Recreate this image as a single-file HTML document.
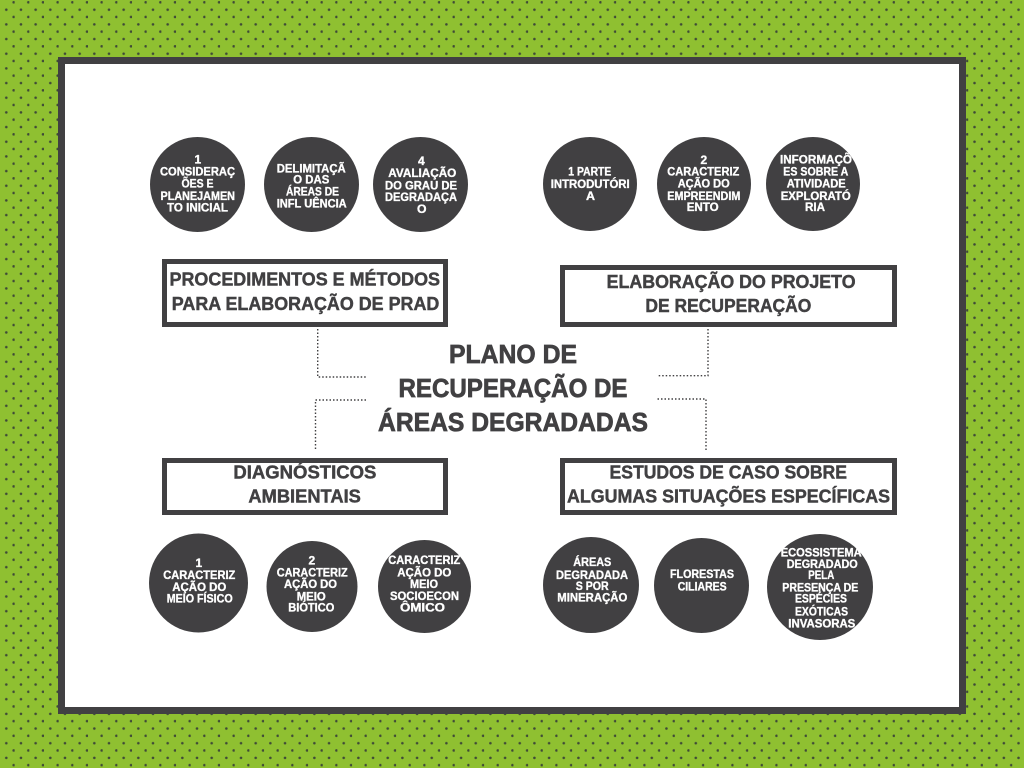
<!DOCTYPE html>
<html lang="pt">
<head>
<meta charset="utf-8">
<title>Plano de Recuperação de Áreas Degradadas</title>
<style>
html,body{margin:0;padding:0;width:1024px;height:768px;overflow:hidden;background:#8fc031}
svg{display:block}
text{font-family:"Liberation Sans",sans-serif;font-weight:700}
.c text{fill:#fff;stroke:#fff;stroke-width:.35;font-size:12px;text-anchor:start}
.b text{fill:#414042;stroke:#414042;stroke-width:.45;font-size:18.5px}
.t text{fill:#414042;stroke:#414042;stroke-width:.7;font-size:25.5px}
.d{fill:none;stroke:#414042;stroke-width:1.4;stroke-dasharray:1.5 2}
</style>
</head>
<body>
<svg width="1024" height="768" viewBox="0 0 1024 768" xmlns="http://www.w3.org/2000/svg">
<defs>
<pattern id="p" x="0" y="0" width="14.67" height="14.67" patternUnits="userSpaceOnUse">
<circle cx="13.7" cy="2.3" r="1.3" fill="#3f4a38"/>
<circle cx="6.3" cy="9.7" r="1.3" fill="#3f4a38"/>
</pattern>
</defs>
<rect width="1024" height="768" fill="#8fc031"/>
<rect width="1024" height="768" fill="url(#p)"/>
<rect x="61.5" y="60.5" width="901" height="650" fill="#fff" stroke="#414042" stroke-width="7"/>

<g fill="#414042">
<circle cx="197.5" cy="184.5" r="47.5"/><circle cx="311.5" cy="184.5" r="47.5"/><circle cx="420.5" cy="184.5" r="47.5"/>
<circle cx="590" cy="184" r="47"/><circle cx="704" cy="184" r="47"/><circle cx="813" cy="184" r="47"/>
<circle cx="198.5" cy="583" r="49.5"/><circle cx="312" cy="586.5" r="45.5"/><circle cx="424.5" cy="586.5" r="46.5"/>
<circle cx="591" cy="585" r="48"/><circle cx="701.5" cy="585.5" r="47.5"/><circle cx="820" cy="587" r="53"/>
</g>

<g fill="#fff" stroke="#414042" stroke-width="5">
<rect x="164.5" y="261.5" width="281" height="63"/>
<rect x="562.5" y="267.5" width="332" height="57"/>
<rect x="164.5" y="460.5" width="281" height="52"/>
<rect x="562.5" y="460.5" width="332" height="52"/>
</g>

<path class="d" d="M317.7 329V377H366"/>
<path class="d" d="M708 329V375.7H657.5"/>
<path class="d" d="M366 400H315.5V449"/>
<path class="d" d="M657.5 399H706V451"/>

<g class="t">
<text x="449" y="363" textLength="128" lengthAdjust="spacingAndGlyphs">PLANO DE</text>
<text x="398.5" y="397" textLength="229" lengthAdjust="spacingAndGlyphs">RECUPERAÇÃO DE</text>
<text x="378" y="431" textLength="270" lengthAdjust="spacingAndGlyphs">ÁREAS DEGRADADAS</text>
</g>

<g class="b">
<text x="169.5" y="285.7" textLength="270.5" lengthAdjust="spacingAndGlyphs">PROCEDIMENTOS E MÉTODOS</text>
<text x="171.8" y="310" textLength="267.5" lengthAdjust="spacingAndGlyphs">PARA ELABORAÇÃO DE PRAD</text>
<text x="606.6" y="288" textLength="249" lengthAdjust="spacingAndGlyphs">ELABORAÇÃO DO PROJETO</text>
<text x="645.4" y="312" textLength="166" lengthAdjust="spacingAndGlyphs">DE RECUPERAÇÃO</text>
<text x="233.4" y="478.7" textLength="143" lengthAdjust="spacingAndGlyphs">DIAGNÓSTICOS</text>
<text x="248.4" y="502.7" textLength="112.5" lengthAdjust="spacingAndGlyphs">AMBIENTAIS</text>
<text x="609.5" y="478.7" textLength="237.5" lengthAdjust="spacingAndGlyphs">ESTUDOS DE CASO SOBRE</text>
<text x="567" y="502.7" textLength="323" lengthAdjust="spacingAndGlyphs">ALGUMAS SITUAÇÕES ESPECÍFICAS</text>
</g>

<g class="c">
<text x="194.5" y="163.3">1</text>
<text x="160" y="175.7" textLength="75" lengthAdjust="spacingAndGlyphs">CONSIDERAÇ</text>
<text x="181.5" y="187.7" textLength="32" lengthAdjust="spacingAndGlyphs">ÕES E</text>
<text x="160.5" y="200" textLength="74.5" lengthAdjust="spacingAndGlyphs">PLANEJAMEN</text>
<text x="167" y="211.7" textLength="61" lengthAdjust="spacingAndGlyphs">TO INICIAL</text>

<text x="276.7" y="172.5" textLength="69" lengthAdjust="spacingAndGlyphs">DELIMITAÇÃ</text>
<text x="293.3" y="183.5" textLength="36" lengthAdjust="spacingAndGlyphs">O DAS</text>
<text x="286" y="195.7" textLength="53" lengthAdjust="spacingAndGlyphs">ÁREAS DE</text>
<text x="276.7" y="207.7" textLength="70" lengthAdjust="spacingAndGlyphs">INFL UÊNCIA</text>

<text x="418" y="165">4</text>
<text x="388.3" y="177" textLength="68" lengthAdjust="spacingAndGlyphs">AVALIAÇÃO</text>
<text x="385" y="189.3" textLength="72" lengthAdjust="spacingAndGlyphs">DO GRAU DE</text>
<text x="385" y="201" textLength="72" lengthAdjust="spacingAndGlyphs">DEGRADAÇA</text>
<text x="417" y="213" textLength="9.5" lengthAdjust="spacingAndGlyphs">O</text>

<text x="568.3" y="175.7" textLength="43" lengthAdjust="spacingAndGlyphs">1 PARTE</text>
<text x="550.7" y="188" textLength="79" lengthAdjust="spacingAndGlyphs">INTRODUTÓRI</text>
<text x="586" y="200" textLength="9" lengthAdjust="spacingAndGlyphs">A</text>

<text x="700.5" y="164">2</text>
<text x="667.3" y="175.7" textLength="72" lengthAdjust="spacingAndGlyphs">CARACTERIZ</text>
<text x="677.7" y="187.7" textLength="52" lengthAdjust="spacingAndGlyphs">AÇÃO DO</text>
<text x="667.3" y="200" textLength="73" lengthAdjust="spacingAndGlyphs">EMPREENDIM</text>
<text x="686.7" y="211" textLength="32" lengthAdjust="spacingAndGlyphs">ENTO</text>

<text x="780" y="163.3" textLength="72" lengthAdjust="spacingAndGlyphs">INFORMAÇÕ</text>
<text x="783.3" y="175.7" textLength="65" lengthAdjust="spacingAndGlyphs">ES SOBRE A</text>
<text x="786.7" y="187.7" textLength="59" lengthAdjust="spacingAndGlyphs">ATIVIDADE</text>
<text x="780.7" y="200" textLength="70" lengthAdjust="spacingAndGlyphs">EXPLORATÓ</text>
<text x="805" y="211" textLength="20" lengthAdjust="spacingAndGlyphs">RIA</text>

<text x="195.5" y="567">1</text>
<text x="163.3" y="579" textLength="72" lengthAdjust="spacingAndGlyphs">CARACTERIZ</text>
<text x="172.3" y="591" textLength="54" lengthAdjust="spacingAndGlyphs">AÇÃO DO</text>
<text x="166.7" y="602.5" textLength="66" lengthAdjust="spacingAndGlyphs">MEIO FÍSICO</text>

<text x="308.5" y="564.5">2</text>
<text x="276.7" y="576.7" textLength="71" lengthAdjust="spacingAndGlyphs">CARACTERIZ</text>
<text x="284" y="588" textLength="53" lengthAdjust="spacingAndGlyphs">AÇÃO DO</text>
<text x="296.7" y="600.7" textLength="29" lengthAdjust="spacingAndGlyphs">MEIO</text>
<text x="288.3" y="611.7" textLength="46" lengthAdjust="spacingAndGlyphs">BIÓTICO</text>

<text x="388.3" y="564" textLength="72" lengthAdjust="spacingAndGlyphs">CARACTERIZ</text>
<text x="397.3" y="576.7" textLength="54" lengthAdjust="spacingAndGlyphs">AÇÃO DO</text>
<text x="410" y="588" textLength="28" lengthAdjust="spacingAndGlyphs">MEIO</text>
<text x="390" y="600" textLength="69" lengthAdjust="spacingAndGlyphs">SOCIOECON</text>
<text x="400" y="611.7" textLength="45" lengthAdjust="spacingAndGlyphs">ÔMICO</text>

<text x="573.3" y="566" textLength="38" lengthAdjust="spacingAndGlyphs">ÁREAS</text>
<text x="556" y="579" textLength="72" lengthAdjust="spacingAndGlyphs">DEGRADADA</text>
<text x="575.7" y="590" textLength="33" lengthAdjust="spacingAndGlyphs">S POR</text>
<text x="557.3" y="601.7" textLength="70" lengthAdjust="spacingAndGlyphs">MINERAÇÃO</text>

<text x="670" y="578" textLength="64" lengthAdjust="spacingAndGlyphs">FLORESTAS</text>
<text x="677.7" y="590.7" textLength="49" lengthAdjust="spacingAndGlyphs">CILIARES</text>

<text x="780.7" y="556.7" textLength="81" lengthAdjust="spacingAndGlyphs">ECOSSISTEMA</text>
<text x="786.7" y="568" textLength="71" lengthAdjust="spacingAndGlyphs">DEGRADADO</text>
<text x="808.3" y="579" textLength="26" lengthAdjust="spacingAndGlyphs">PELA</text>
<text x="782.3" y="591.7" textLength="76" lengthAdjust="spacingAndGlyphs">PRESENÇA DE</text>
<text x="795" y="602.7" textLength="52" lengthAdjust="spacingAndGlyphs">ESPÉCIES</text>
<text x="795" y="615.7" textLength="53" lengthAdjust="spacingAndGlyphs">EXÓTICAS</text>
<text x="788.3" y="627.7" textLength="67" lengthAdjust="spacingAndGlyphs">INVASORAS</text>
</g>
</svg>
</body>
</html>
